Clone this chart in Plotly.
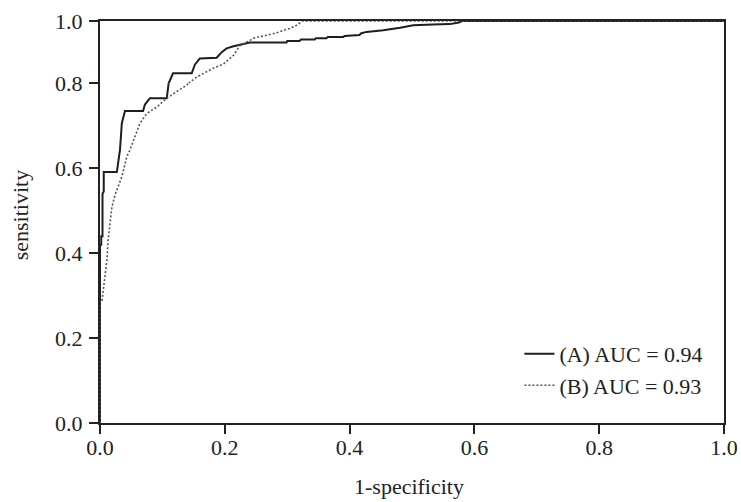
import plotly.graph_objects as go

# ROC curve (A): 1-specificity / sensitivity
fpr_a = [0.000, 0.000, 0.002, 0.002, 0.004, 0.004, 0.006, 0.006, 0.027, 0.032,
         0.035, 0.040, 0.069, 0.072, 0.080, 0.107, 0.110, 0.117, 0.147, 0.152,
         0.160, 0.187, 0.195, 0.203, 0.214, 0.227, 0.240, 0.299, 0.300, 0.320,
         0.322, 0.344, 0.346, 0.363, 0.365, 0.390, 0.392, 0.416, 0.418, 0.427,
         0.454, 0.481, 0.502, 0.533, 0.561, 0.575, 0.580, 1.000]
tpr_a = [0.000, 0.420, 0.420, 0.440, 0.440, 0.540, 0.545, 0.591, 0.591, 0.643,
         0.706, 0.735, 0.735, 0.750, 0.765, 0.765, 0.800, 0.832, 0.832, 0.860,
         0.880, 0.882, 0.900, 0.912, 0.919, 0.926, 0.931, 0.931, 0.936, 0.936,
         0.941, 0.941, 0.945, 0.945, 0.949, 0.949, 0.952, 0.955, 0.960, 0.965,
         0.970, 0.978, 0.986, 0.989, 0.990, 0.995, 1.000, 1.000]

# ROC curve (B)
fpr_b = [0.000, 0.000, 0.003, 0.008, 0.011, 0.013, 0.016, 0.019, 0.024, 0.029,
         0.035, 0.043, 0.048, 0.056, 0.064, 0.075, 0.091, 0.107, 0.123, 0.139,
         0.155, 0.171, 0.181, 0.198, 0.214, 0.224, 0.235, 0.248, 0.267, 0.283,
         0.294, 0.304, 0.315, 0.324, 1.000]
tpr_b = [0.000, 0.285, 0.285, 0.344, 0.383, 0.431, 0.473, 0.508, 0.537, 0.558,
         0.580, 0.627, 0.643, 0.674, 0.706, 0.729, 0.744, 0.765, 0.780, 0.796,
         0.820, 0.837, 0.848, 0.862, 0.890, 0.921, 0.932, 0.946, 0.954, 0.962,
         0.970, 0.976, 0.986, 1.000, 1.000]

names = ["(A) AUC = 0.94", "(B) AUC = 0.93"]
x_ticks = [0.0, 0.2, 0.4, 0.6, 0.8, 1.0]
y_ticks_low = [0.0, 0.2, 0.4, 0.6, 0.8]
y_ticks_high = [1.0]

FONT = "Liberation Serif"
INK = "#222222"

fig = go.Figure()
styles = [dict(color="#1e1e1e", width=2, dash="solid"),
          dict(color="#555555", width=1.6, dash="2px,2px")]
data = [(fpr_a, tpr_a), (fpr_b, tpr_b)]

# The reference's y scale is compressed above 0.8, so the plot is split into
# two stacked y-axes (0-0.8 and 0.8-1.0); each curve is drawn on both.
for (fx, ty), st, nm in zip(data, styles, names):
    fig.add_trace(go.Scatter(x=fx, y=ty, mode="lines", line=st, name=nm,
                             xaxis="x", yaxis="y", showlegend=True))
for (fx, ty), st, nm in zip(data, styles, names):
    fig.add_trace(go.Scatter(x=fx, y=ty, mode="lines", line=st, name=nm,
                             xaxis="x2", yaxis="y2", showlegend=False))

split = 0.845
axis_common = dict(showline=True, linecolor=INK, linewidth=2, showgrid=False,
                   zeroline=False, tickcolor=INK, tickwidth=2, ticklen=9,
                   automargin=False)
tick_font = dict(family=FONT, size=22, color=INK)

fig.update_layout(
    width=741, height=502,
    margin=dict(l=100, r=17, t=21, b=79),
    paper_bgcolor="white", plot_bgcolor="white",
    font=dict(family=FONT, size=22, color=INK),
    xaxis=dict(domain=[0, 1], range=[0, 1], anchor="y", tickvals=x_ticks,
               tickformat=".1f", ticks="outside", mirror=False, tickfont=tick_font,
               ticklabelstandoff=-5, **axis_common),
    xaxis2=dict(domain=[0, 1], range=[0, 1], anchor="y2", matches="x",
                side="top", ticks="", showticklabels=False, **axis_common),
    yaxis=dict(domain=[0, split], range=[0, 0.8], anchor="x", tickvals=y_ticks_low,
               tickformat=".1f", ticks="outside", mirror=True, tickfont=tick_font,
               ticklabelstandoff=2, **axis_common),
    yaxis2=dict(domain=[split, 1], range=[0.8, 1.0], anchor="x2", tickvals=y_ticks_high,
                tickformat=".1f", ticks="outside", mirror=True, tickfont=tick_font,
                ticklabelstandoff=2, **axis_common),
    legend=dict(x=0.975, xanchor="right", y=0.04, yanchor="bottom",
                bgcolor="rgba(0,0,0,0)", font=dict(family=FONT, size=22, color=INK),
                tracegroupgap=0),
    annotations=[
        dict(text="1-specificity", xref="paper", yref="paper", x=0.495, y=-0.158,
             xanchor="center", yanchor="middle", showarrow=False,
             font=dict(family=FONT, size=22, color=INK)),
        dict(text="sensitivity", xref="paper", yref="paper", x=-0.128, y=0.517,
             xanchor="center", yanchor="middle", textangle=-90, showarrow=False,
             font=dict(family=FONT, size=22, color=INK)),
    ],
)

fig.write_html("out.html", config={"displayModeBar": False},
               post_script="document.body.style.margin='0';document.body.style.overflow='hidden';")
